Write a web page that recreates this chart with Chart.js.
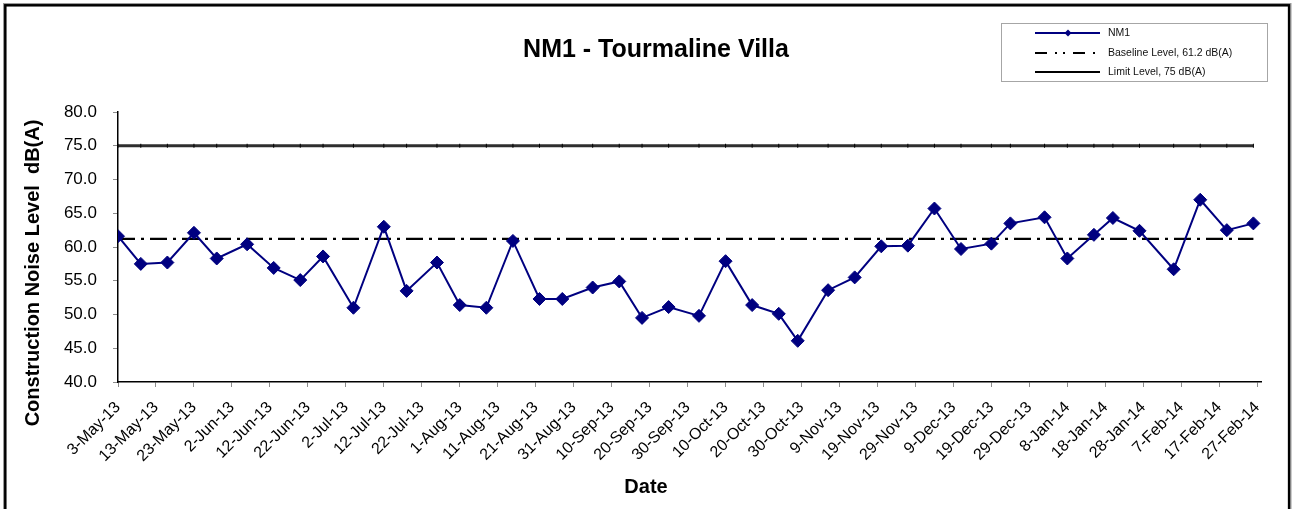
<!DOCTYPE html>
<html>
<head>
<meta charset="utf-8">
<title>NM1 - Tourmaline Villa</title>
<script src="https://cdn.jsdelivr.net/npm/chart.js@4.4.1/dist/chart.umd.min.js"></script>
<style>
  html, body { margin: 0; padding: 0; background: #fff; }
  #wrap { position: relative; width: 1295px; height: 509px; }
</style>
</head>
<body>
<div id="wrap"><canvas id="chart" width="1295" height="509"></canvas></div>
<script>
"use strict";

const FONT = "'Liberation Sans', Arial, sans-serif";

// ── Data ────────────────────────────────────────────────────────────────
const sampleDates = [
  "2013-05-03", "2013-05-09", "2013-05-16", "2013-05-23", "2013-05-29",
  "2013-06-06", "2013-06-13", "2013-06-20", "2013-06-26", "2013-07-04",
  "2013-07-12", "2013-07-18", "2013-07-26", "2013-08-01", "2013-08-08",
  "2013-08-15", "2013-08-22", "2013-08-28", "2013-09-05", "2013-09-12",
  "2013-09-18", "2013-09-25", "2013-10-03", "2013-10-10", "2013-10-17",
  "2013-10-24", "2013-10-29", "2013-11-06", "2013-11-13", "2013-11-20",
  "2013-11-27", "2013-12-04", "2013-12-11", "2013-12-19", "2013-12-24",
  "2014-01-02", "2014-01-08", "2014-01-15", "2014-01-20", "2014-01-27",
  "2014-02-05", "2014-02-12", "2014-02-19", "2014-02-26",
];

const nm1Levels = [
  61.6, 57.5, 57.7, 62.1, 58.3, 60.4, 56.9, 55.1, 58.6, 51.0,
  63.0, 53.5, 57.7, 51.4, 51.0, 60.9, 52.3, 52.3, 54.0, 54.9,
  49.5, 51.1, 49.8, 57.9, 51.4, 50.1, 46.1, 53.6, 55.5, 60.1,
  60.2, 65.7, 59.7, 60.5, 63.5, 64.4, 58.3, 61.8, 64.3, 62.4,
  56.7, 67.0, 62.5, 63.5,
];

const baselineLevel = 61.2;
const limitLevel = 75;

const tickLabels = [
  "3-May-13", "13-May-13", "23-May-13", "2-Jun-13", "12-Jun-13", "22-Jun-13",
  "2-Jul-13", "12-Jul-13", "22-Jul-13", "1-Aug-13", "11-Aug-13", "21-Aug-13",
  "31-Aug-13", "10-Sep-13", "20-Sep-13", "30-Sep-13", "10-Oct-13", "20-Oct-13",
  "30-Oct-13", "9-Nov-13", "19-Nov-13", "29-Nov-13", "9-Dec-13", "19-Dec-13",
  "29-Dec-13", "8-Jan-14", "18-Jan-14", "28-Jan-14", "7-Feb-14", "17-Feb-14",
  "27-Feb-14",
];
const tickStepDays = 10;

// ── Helpers ─────────────────────────────────────────────────────────────
const DAY = 86400000;
const ORIGIN = Date.UTC(2013, 4, 3);
const toDay = s => {
  const [y, m, d] = s.split("-").map(Number);
  return Math.round((Date.UTC(y, m - 1, d) - ORIGIN) / DAY);
};
const xs = sampleDates.map(toDay);
const tickDays = tickLabels.map((_, i) => i * tickStepDays);

const series = vals => xs.map((x, i) => ({ x, y: vals[i] }));
const flat = v => xs.map(x => ({ x, y: v }));

// ── Plugins ─────────────────────────────────────────────────────────────
const frame = {
  id: "frame",
  beforeDraw(chart) {
    const { ctx, width, height } = chart;
    ctx.save();
    ctx.fillStyle = "#fff";
    ctx.fillRect(0, 0, width, height);
    ctx.restore();
  },
  afterDraw(chart) {
    const { ctx } = chart;
    ctx.save();
    ctx.strokeStyle = "#9a9a9a";
    ctx.lineWidth = 1;
    ctx.strokeRect(3.5, 3.5, 1287.5, 600);
    ctx.strokeStyle = "#000";
    ctx.lineWidth = 2.5;
    ctx.strokeRect(5.3, 5.3, 1283.8, 600);
    ctx.restore();
  },
};

const titles = {
  id: "titles",
  afterDraw(chart) {
    const { ctx } = chart;
    ctx.save();
    ctx.fillStyle = "#000";
    ctx.textAlign = "center";
    ctx.textBaseline = "middle";
    ctx.font = `bold 25px ${FONT}`;
    ctx.fillText("NM1 - Tourmaline Villa", 656, 50);
    ctx.font = `bold 20px ${FONT}`;
    ctx.fillText("Date", 646, 487);
    ctx.translate(33, 273);
    ctx.rotate(-Math.PI / 2);
    ctx.fillText("Construction Noise Level  dB(A)", 0, 0);
    ctx.restore();
  },
};

const legendBox = {
  id: "legendBox",
  afterDraw(chart) {
    const { ctx } = chart;
    const rows = [33, 53, 72];
    ctx.save();
    ctx.strokeStyle = "#a6a6a6";
    ctx.lineWidth = 1;
    ctx.strokeRect(1001.5, 23.5, 266, 58);
    ctx.font = `10.5px ${FONT}`;
    ctx.textBaseline = "middle";
    ctx.textAlign = "left";
    chart.data.datasets.forEach((ds, i) => {
      const y = rows[i];
      ctx.beginPath();
      ctx.setLineDash(ds.legendDash || []);
      ctx.strokeStyle = ds.legendColor || ds.borderColor;
      ctx.lineWidth = 2;
      ctx.moveTo(1035, y);
      ctx.lineTo(1100, y);
      ctx.stroke();
      ctx.setLineDash([]);
      if (ds.pointStyle === "rectRot") {
        ctx.fillStyle = ds.pointBackgroundColor;
        ctx.beginPath();
        ctx.moveTo(1068, y - 3.5);
        ctx.lineTo(1071.5, y);
        ctx.lineTo(1068, y + 3.5);
        ctx.lineTo(1064.5, y);
        ctx.closePath();
        ctx.fill();
      }
      ctx.fillStyle = "#111";
      ctx.fillText(ds.label, 1108, y);
    });
    ctx.restore();
  },
};

// ── Chart ───────────────────────────────────────────────────────────────
new Chart(document.getElementById("chart"), {
  type: "line",
  data: {
    datasets: [
      {
        label: "NM1",
        data: series(nm1Levels),
        borderColor: "#000080",
        borderWidth: 2,
        pointStyle: "rectRot",
        pointRadius: 6.5,
        pointBackgroundColor: "#000080",
        pointBorderColor: "#000080",
        pointBorderWidth: 1,
        tension: 0,
      },
      {
        label: "Baseline Level, 61.2 dB(A)",
        data: flat(baselineLevel),
        borderColor: "#000",
        borderWidth: 2.2,
        borderDash: [17, 6, 3, 6],
        legendDash: [12, 8, 2, 6, 2, 8],
        pointRadius: 0,
        tension: 0,
      },
      {
        label: "Limit Level, 75 dB(A)",
        data: flat(limitLevel),
        borderColor: "#2e2e2e",
        legendColor: "#000",
        borderWidth: 2.8,
        pointStyle: "line",
        rotation: 90,
        pointRadius: 2,
        pointBorderColor: "#000",
        pointBorderWidth: 1,
        tension: 0,
      },
    ],
  },
  options: {
    responsive: false,
    animation: false,
    events: [],
    layout: { padding: { top: 112, right: 34, left: 0, bottom: 0 } },
    plugins: {
      legend: { display: false },
      tooltip: { enabled: false },
      title: { display: false },
    },
    scales: {
      x: {
        type: "linear",
        min: 0,
        max: 301,
        afterFit: s => { s.height = 127; },
        afterBuildTicks: s => { s.ticks = tickDays.map(v => ({ value: v })); },
        grid: {
          drawOnChartArea: false,
          drawTicks: true,
          tickLength: 5,
          color: "#8c8c8c",
        },
        border: { display: true, color: "#000", width: 1.5 },
        ticks: {
          autoSkip: false,
          minRotation: 45,
          maxRotation: 45,
          padding: 11,
          color: "#000",
          font: { family: FONT, size: 16 },
          callback: v => tickLabels[tickDays.indexOf(v)] ?? "",
        },
      },
      y: {
        min: 40,
        max: 80,
        afterFit: s => { s.width = 118; },
        grid: {
          drawOnChartArea: false,
          drawTicks: true,
          tickLength: 5,
          color: "#8c8c8c",
        },
        border: { display: true, color: "#000", width: 1.5 },
        ticks: {
          stepSize: 5,
          padding: 16,
          color: "#000",
          font: { family: FONT, size: 17 },
          callback: v => Number(v).toFixed(1),
        },
      },
    },
  },
  plugins: [frame, titles, legendBox],
});
</script>
</body>
</html>
